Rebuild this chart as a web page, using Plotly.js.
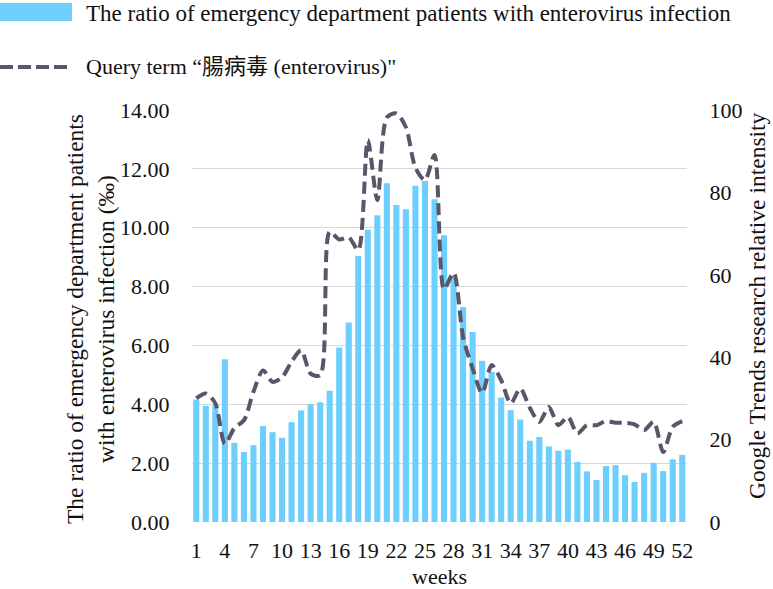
<!DOCTYPE html>
<html>
<head>
<meta charset="utf-8">
<script src="https://cdn.plot.ly/plotly-3.0.1.min.js"></script>
<style>html,body{margin:0;padding:0;background:#fff;}#chart{width:773px;height:589px;}</style>
</head>
<body>
<div id="chart"></div>
<script>
const weeks = [1,2,3,4,5,6,7,8,9,10,11,12,13,14,15,16,17,18,19,20,21,22,23,24,25,26,27,28,29,30,31,32,33,34,35,36,37,38,39,40,41,42,43,44,45,46,47,48,49,50,51,52];
const edRatio = [4.16,3.95,3.97,5.53,2.69,2.38,2.61,3.26,3.05,2.86,3.39,3.79,4.00,4.07,4.46,5.93,6.78,9.04,9.93,10.42,11.51,10.77,10.63,11.43,11.59,10.97,9.74,8.33,7.31,6.46,5.48,5.10,4.23,3.80,3.48,2.76,2.89,2.57,2.42,2.46,2.04,1.72,1.43,1.90,1.93,1.59,1.36,1.67,2.01,1.73,2.13,2.28];
const trends = [30.0,31.2,28.8,19.0,22.8,24.7,31.6,36.8,34.0,35.1,38.9,41.7,36.0,35.6,70.4,68.6,69.1,66.0,92.7,78.1,98.2,99.2,95.8,86.0,83.0,89.1,56.5,60.5,44.9,37.3,31.3,38.1,34.4,28.8,32.4,27.7,24.3,27.9,23.5,25.5,21.5,23.5,23.5,24.5,24.1,24.1,23.7,22.3,24.3,17.0,23.1,24.5];
const xTickVals = [1,4,7,10,13,16,19,22,25,28,31,34,37,40,43,46,49,52];
const xTickText = ["1","4","7","10","13","16","19","22","25","28","31","34","37","40","43","46","49","52"];
const leftTicks = [0,2,4,6,8,10,12,14];
const rightTicks = [0,20,40,60,80,100];
const barName = "The ratio of emergency department patients with enterovirus infection";
const lineName = "Query term \u201c腸病毒 (enterovirus)\"";
const leftTitle = "The ratio of emergency department patients<br>with enterovirus infection (‰)";
const rightTitle = "Google Trends research relative intensity";
const xTitle = "weeks";

const BAR_COLOR = "#6dcffd";
const LINE_COLOR = "#5a5569";
const TXT = "#111";
const FONT = "'Liberation Serif', 'Times New Roman', 'Noto Sans CJK TC', serif";

const W = 773, H = 589, ML = 192, MR = 86, MT = 110, MB = 67;
const PW = W - ML - MR, PH = H - MT - MB;
const px = x => (x - ML) / PW;
const py = y => (H - MB - y) / PH;

const traces = [
  {type: "bar", x: weeks, y: edRatio, name: barName, marker: {color: BAR_COLOR}, yaxis: "y", showlegend: false},
  {type: "scatter", mode: "lines", x: weeks, y: trends, name: lineName, yaxis: "y2", showlegend: false,
   line: {color: LINE_COLOR, width: 4, dash: "12px,6px", shape: "spline", smoothing: 0.8}}
];

const layout = {
  width: W, height: H,
  margin: {l: ML, r: MR, t: MT, b: MB, pad: 0},
  paper_bgcolor: "#fff", plot_bgcolor: "#fff",
  font: {family: FONT, size: 22, color: TXT},
  bargap: 0.36,
  showlegend: false,
  xaxis: {
    range: [0.55, 52.5], tickvals: xTickVals, ticktext: xTickText,
    showgrid: false, zeroline: false, showline: false,
    ticks: "outside", ticklen: 9, tickcolor: "rgba(0,0,0,0)",
    tickfont: {family: FONT, size: 22, color: TXT},
    title: {text: xTitle, font: {family: FONT, size: 22, color: TXT}, standoff: 6}
  },
  yaxis: {
    range: [0, 14], tickvals: leftTicks, tickformat: ".2f",
    showgrid: true, gridcolor: "#d9d9d9", gridwidth: 1, zeroline: false, showline: false,
    ticks: "outside", ticklen: 17, tickcolor: "rgba(0,0,0,0)",
    tickfont: {family: FONT, size: 22, color: TXT}
  },
  yaxis2: {
    range: [0, 100], tickvals: rightTicks, overlaying: "y", side: "right",
    showgrid: false, zeroline: false, showline: false,
    ticks: "outside", ticklen: 17, tickcolor: "rgba(0,0,0,0)",
    tickfont: {family: FONT, size: 22, color: TXT}
  },
  shapes: [
    {type: "rect", xref: "paper", yref: "paper", x0: px(0), x1: px(72), y0: py(21), y1: py(3), fillcolor: BAR_COLOR, line: {width: 0}},
    {type: "line", xref: "paper", yref: "paper", x0: px(0), x1: px(72), y0: py(67), y1: py(67), line: {color: LINE_COLOR, width: 4, dash: "13px,5px"}}
  ],
  annotations: [
    {xref: "paper", yref: "paper", x: px(84), y: py(13), xanchor: "left", yanchor: "middle", showarrow: false, text: barName, font: {family: FONT, size: 23, color: TXT}},
    {xref: "paper", yref: "paper", x: px(84), y: py(67), xanchor: "left", yanchor: "middle", showarrow: false, text: lineName, font: {family: FONT, size: 22, color: TXT}},
    {xref: "paper", yref: "paper", x: px(90), y: py(319), xanchor: "center", yanchor: "middle", textangle: -90, showarrow: false, text: leftTitle, font: {family: FONT, size: 23.5, color: TXT}},
    {xref: "paper", yref: "paper", x: px(757), y: py(306), xanchor: "center", yanchor: "middle", textangle: -90, showarrow: false, text: rightTitle, font: {family: FONT, size: 23.5, color: TXT}}
  ]
};

Plotly.newPlot("chart", traces, layout, {displayModeBar: false, staticPlot: true});
</script>
</body>
</html>
